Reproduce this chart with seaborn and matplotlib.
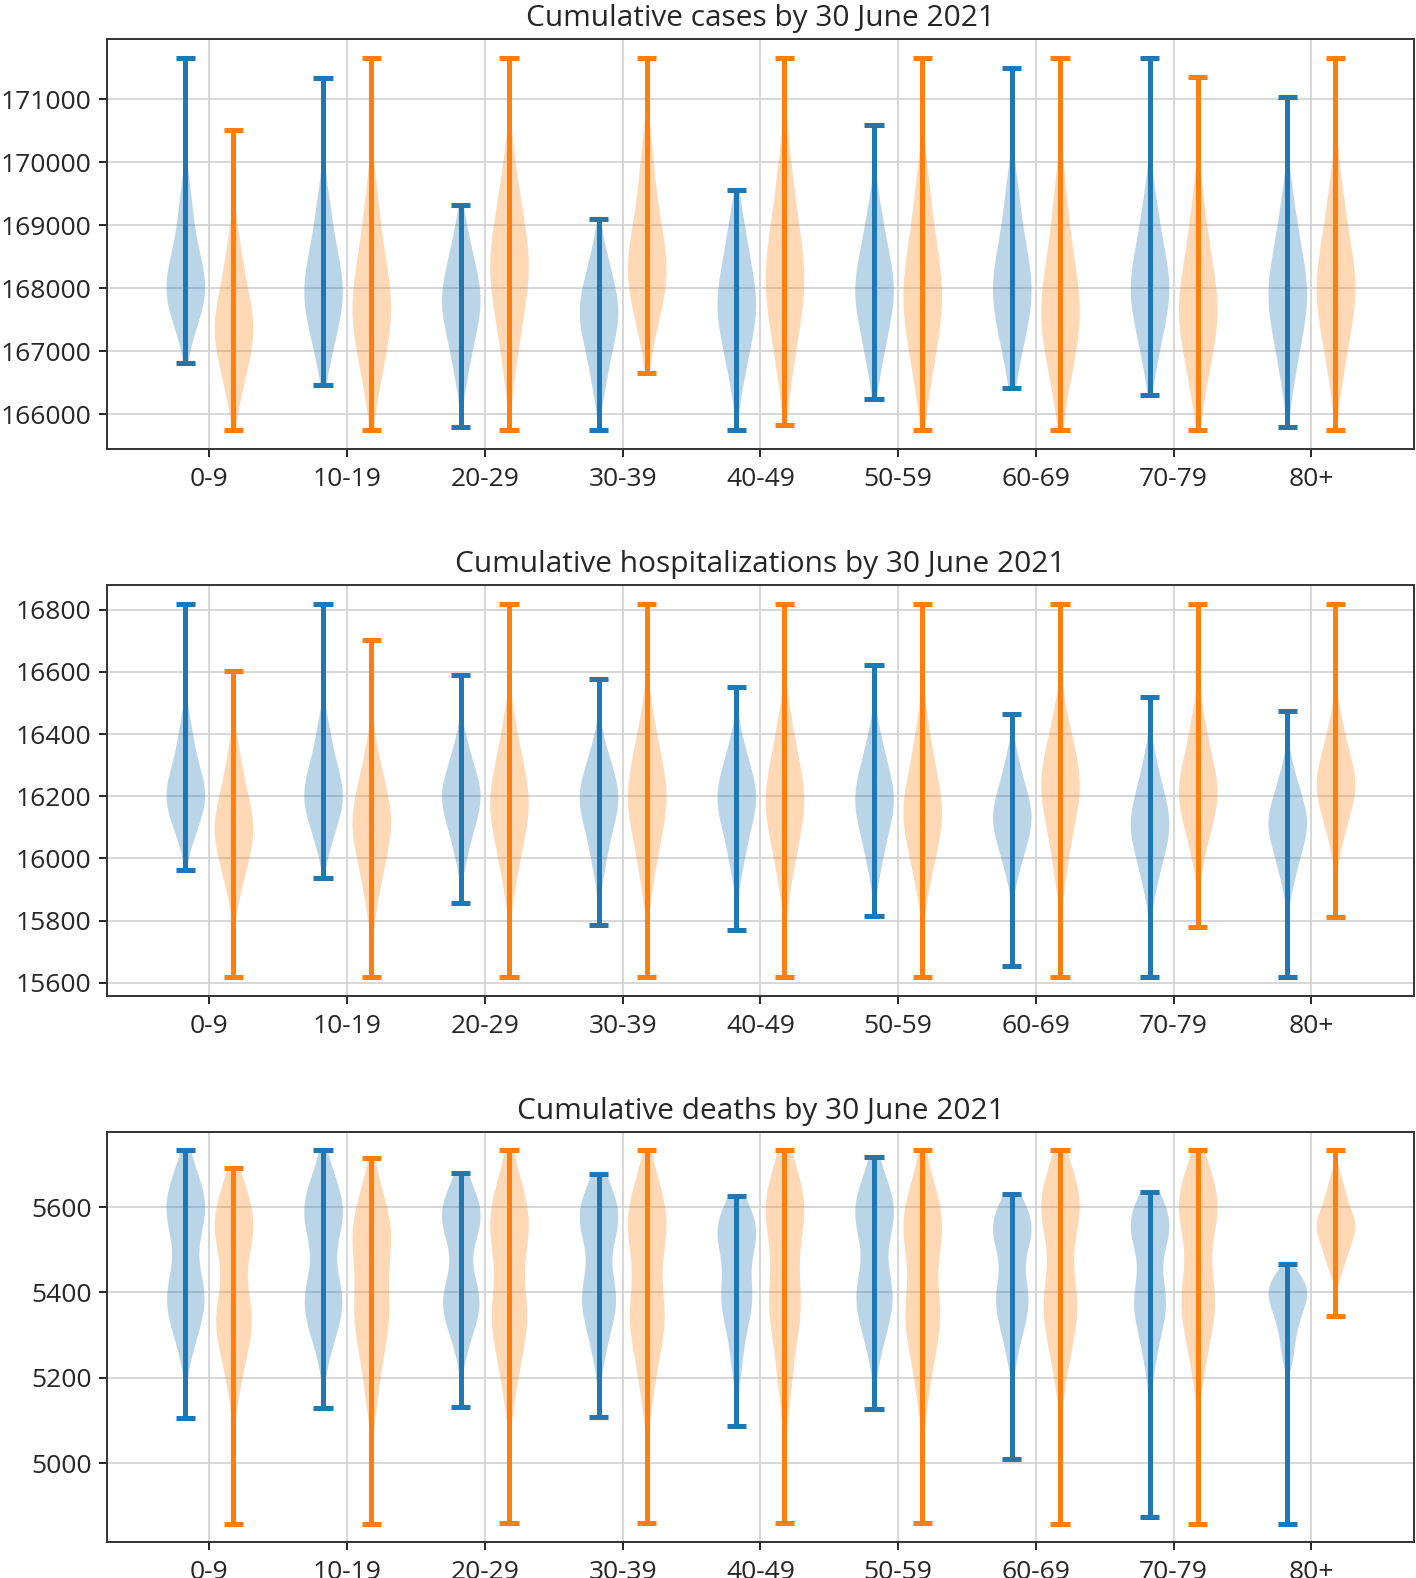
import matplotlib
matplotlib.use("Agg")
import matplotlib.pyplot as plt
from matplotlib.patches import Rectangle
import pandas as pd
import seaborn as sns

# age bands and the two scenario runs (blue = A, orange = B)
ages = ["0-9", "10-19", "20-29", "30-39", "40-49", "50-59", "60-69", "70-79", "80+"]
groups = ["A", "B"]
colors = ["#1f77b4", "#ff7f0e"]

# ---- cumulative cases: body samples per age band, plus run extremes
cases_a = [
    [167350, 167650, 167850, 168000, 168100, 168280, 168550, 168910, 169450],
    [166950, 167370, 167650, 167860, 168000, 168180, 168450, 168810, 169350],
    [166675, 167125, 167425, 167650, 167800, 167940, 168150, 168430, 168850],
    [166475, 166925, 167225, 167450, 167600, 167730, 167920, 168175, 168560],
    [166600, 167070, 167380, 167615, 167770, 167950, 168220, 168580, 169050],
    [166790, 167265, 167580, 167820, 167975, 168140, 168385, 168715, 169205],
    [166880, 167340, 167650, 167880, 168030, 168230, 168530, 168930, 169530],
    [166880, 167340, 167650, 167880, 168030, 168210, 168480, 168840, 169380],
    [166630, 167145, 167490, 167750, 167920, 168105, 168385, 168760, 169315],
]
cases_b = [
    [166350, 166770, 167050, 167260, 167400, 167570, 167825, 168165, 168675],
    [166475, 166985, 167325, 167580, 167750, 167970, 168300, 168740, 169400],
    [166850, 167450, 167850, 168150, 168350, 168550, 168850, 169250, 169850],
    [167350, 167770, 168050, 168260, 168400, 168630, 168970, 169430, 170110],
    [166690, 167290, 167690, 167990, 168190, 168420, 168765, 169225, 169915],
    [166480, 167055, 167440, 167730, 167920, 168150, 168490, 168945, 169630],
    [166430, 166940, 167280, 167540, 167710, 167945, 168295, 168765, 169465],
    [166430, 166940, 167280, 167540, 167710, 167920, 168235, 168655, 169285],
    [166660, 167205, 167570, 167850, 168030, 168235, 168545, 168955, 169575],
]
cases_a_min = [166817, 166462, 165793, 165745, 165745, 166250, 166419, 166313, 165793]
cases_a_max = [171664, 171345, 169328, 169105, 169556, 170586, 171494, 171664, 171043]
cases_b_min = [165745, 165745, 165745, 166648, 165825, 165745, 165745, 165745, 165745]
cases_b_max = [170522, 171664, 171664, 171664, 171664, 171664, 171664, 171361, 171664]

# ---- cumulative hospitalizations
hosp_a = [
    [16072, 16128, 16166, 16194, 16213, 16240, 16282, 16336, 16419],
    [16052, 16115, 16158, 16189, 16210, 16237, 16278, 16332, 16413],
    [16020, 16091, 16138, 16173, 16197, 16219, 16251, 16294, 16359],
    [15977, 16061, 16117, 16159, 16187, 16209, 16241, 16284, 16349],
    [15978, 16063, 16120, 16162, 16190, 16213, 16248, 16294, 16364],
    [15977, 16061, 16117, 16159, 16187, 16213, 16251, 16302, 16379],
    [15964, 16031, 16077, 16110, 16133, 16157, 16192, 16239, 16310],
    [15919, 15996, 16047, 16085, 16111, 16137, 16176, 16227, 16305],
    [15934, 16005, 16052, 16087, 16111, 16133, 16165, 16208, 16273],
]
hosp_b = [
    [15908, 15985, 16036, 16074, 16100, 16130, 16175, 16235, 16325],
    [15878, 15972, 16034, 16081, 16112, 16141, 16184, 16242, 16328],
    [15935, 16032, 16097, 16145, 16177, 16209, 16257, 16321, 16417],
    [15940, 16043, 16112, 16163, 16197, 16229, 16278, 16342, 16439],
    [15938, 16038, 16104, 16154, 16187, 16220, 16270, 16336, 16436],
    [15929, 16019, 16079, 16124, 16154, 16188, 16240, 16309, 16412],
    [15967, 16072, 16142, 16194, 16229, 16258, 16302, 16360, 16447],
    [16027, 16104, 16155, 16193, 16219, 16249, 16294, 16354, 16444],
    [16064, 16135, 16182, 16217, 16241, 16267, 16305, 16356, 16433],
]
hosp_a_min = [15961, 15938, 15856, 15787, 15768, 15815, 15654, 15618, 15618]
hosp_a_max = [16820, 16820, 16589, 16578, 16551, 16623, 16465, 16518, 16473]
hosp_b_min = [15618, 15618, 15618, 15618, 15618, 15618, 15618, 15778, 15811]
hosp_b_max = [16603, 16704, 16820, 16820, 16820, 16820, 16820, 16820, 16820]

# ---- cumulative deaths
deaths_a = [
    [5290, 5350, 5385, 5405, 5425, 5550, 5575, 5600, 5630, 5670],
    [5285, 5345, 5378, 5398, 5418, 5545, 5567, 5590, 5620, 5665],
    [5295, 5350, 5380, 5395, 5412, 5540, 5560, 5580, 5605, 5630],
    [5270, 5345, 5380, 5400, 5420, 5535, 5558, 5580, 5605, 5630],
    [5240, 5330, 5372, 5396, 5420, 5500, 5530, 5550, 5565, 5585],
    [5280, 5350, 5385, 5405, 5425, 5545, 5567, 5590, 5620, 5660],
    [5275, 5340, 5375, 5396, 5418, 5510, 5535, 5555, 5575, 5590],
    [5250, 5330, 5368, 5388, 5410, 5515, 5542, 5565, 5580, 5595],
    [5250, 5300, 5335, 5360, 5380, 5395, 5410, 5425, 5440],
]
deaths_b = [
    [5200, 5290, 5330, 5350, 5370, 5510, 5535, 5560, 5590, 5635],
    [5170, 5270, 5330, 5357, 5385, 5480, 5515, 5540, 5575, 5635],
    [5190, 5280, 5335, 5358, 5385, 5510, 5540, 5565, 5600, 5660],
    [5180, 5280, 5332, 5357, 5385, 5510, 5540, 5565, 5600, 5655],
    [5180, 5290, 5360, 5388, 5415, 5545, 5575, 5600, 5630, 5670],
    [5180, 5280, 5332, 5357, 5385, 5505, 5535, 5560, 5595, 5650],
    [5230, 5310, 5365, 5388, 5412, 5550, 5580, 5605, 5635, 5670],
    [5235, 5320, 5372, 5396, 5420, 5550, 5580, 5605, 5635, 5670],
    [5460, 5495, 5520, 5545, 5556, 5570, 5590, 5620, 5660],
]
deaths_a_min = [5106, 5129, 5132, 5107, 5087, 5126, 5009, 4874, 4858]
deaths_a_max = [5733, 5733, 5679, 5677, 5626, 5718, 5631, 5636, 5467]
deaths_b_min = [4858, 4858, 4859, 4859, 4859, 4859, 4858, 4858, 5344]
deaths_b_max = [5691, 5715, 5733, 5733, 5733, 5733, 5733, 5733, 5733]

cases_ticks = [166000, 167000, 168000, 169000, 170000, 171000]
hosp_ticks = [15600, 15800, 16000, 16200, 16400, 16600, 16800]
deaths_ticks = [5000, 5200, 5400, 5600]

SHIFT = 0.175   # dodge offset of each run from the age tick


def to_long(body_a, body_b):
    rows = []
    for grp, body in zip(groups, [body_a, body_b]):
        for age, vals in zip(ages, body):
            for v in vals:
                rows.append({"age": age, "group": grp, "value": v})
    return pd.DataFrame(rows)


def draw_panel(ax, title, body_a, body_b, ext_a, ext_b, yticks, bw):
    df = to_long(body_a, body_b)
    sns.violinplot(data=df, x="age", y="value", hue="group", order=ages,
                   hue_order=groups, palette=colors, saturation=1,
                   width=0.7, gap=0.2, dodge=True, inner=None, cut=2,
                   density_norm="width", bw_adjust=bw, linewidth=0,
                   alpha=0.3, legend=False, ax=ax)

    # keep each violin between its run minimum and maximum
    exts = [ext_a, ext_b]
    for coll in list(ax.collections):
        xs = coll.get_paths()[0].vertices[:, 0]
        xc = (xs.min() + xs.max()) / 2
        i = int(round(xc))
        k = 0 if xc < i else 1
        lo, hi = exts[k][0][i], exts[k][1][i]
        coll.set_clip_path(Rectangle((i - 0.5, lo), 1.0, hi - lo,
                                     transform=ax.transData))

    # extrema bars with caps
    for k, (lo, hi) in enumerate(exts):
        shift = -SHIFT if k == 0 else SHIFT
        pos = [i + shift for i in range(len(ages))]
        left = [p - 0.07 for p in pos]
        right = [p + 0.07 for p in pos]
        ax.vlines(pos, lo, hi, color=colors[k], lw=3.6, zorder=3)
        ax.hlines(lo, left, right, color=colors[k], lw=3.6, zorder=3)
        ax.hlines(hi, left, right, color=colors[k], lw=3.6, zorder=3)

    lo_all = min(min(ext_a[0]), min(ext_b[0]))
    hi_all = max(max(ext_a[1]), max(ext_b[1]))
    span = hi_all - lo_all
    ax.set_ylim(lo_all - 0.05 * span, hi_all + 0.05 * span)
    ax.set_xlim(-0.745, 8.745)
    ax.set_yticks(yticks)
    ax.set_xticks(range(len(ages)))
    ax.set_xticklabels(ages)
    ax.set_xlabel("")
    ax.set_ylabel("")
    ax.grid(True, color="#d4d4d4", lw=1.3)
    ax.set_axisbelow(True)
    ax.tick_params(labelsize=19, length=6, width=1.4, pad=5)
    ax.tick_params(axis="x", pad=7)
    for sp in ax.spines.values():
        sp.set_visible(True)
        sp.set_linewidth(1.4)
        sp.set_color("#333333")
    ax.set_title(title, fontsize=21.5, pad=9.5)


sns.set_style("ticks")
plt.rcParams["font.family"] = ["Open Sans", "DejaVu Sans"]

fig = plt.figure(figsize=(14.16, 15.78), dpi=100)
ax1 = fig.add_axes([0.0754, 0.7155, 0.9232, 0.2598])
ax2 = fig.add_axes([0.0754, 0.3690, 0.9232, 0.2603])
ax3 = fig.add_axes([0.0754, 0.0226, 0.9232, 0.2602])

draw_panel(ax1, "Cumulative cases by 30 June 2021", cases_a, cases_b,
           (cases_a_min, cases_a_max), (cases_b_min, cases_b_max),
           cases_ticks, 1.0)
draw_panel(ax2, "Cumulative hospitalizations by 30 June 2021", hosp_a, hosp_b,
           (hosp_a_min, hosp_a_max), (hosp_b_min, hosp_b_max),
           hosp_ticks, 1.0)
draw_panel(ax3, "Cumulative deaths by 30 June 2021", deaths_a, deaths_b,
           (deaths_a_min, deaths_a_max), (deaths_b_min, deaths_b_max),
           deaths_ticks, 0.8)

fig.savefig("out.png", dpi=100)
